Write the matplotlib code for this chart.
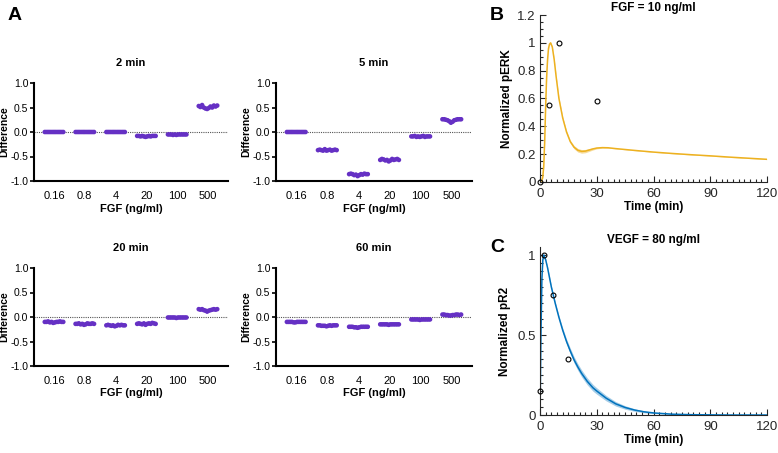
import numpy as np
import matplotlib
matplotlib.use("Agg")
import matplotlib.pyplot as plt
from matplotlib.ticker import AutoMinorLocator, FixedLocator

plt.rcParams['font.family'] = ['Liberation Sans', 'DejaVu Sans']

# ---- panel A data: differences per FGF dose (swarm points) ----
doses = ['0.16', '0.8', '4', '20', '100', '500']
swarm_titles = ['2 min', '5 min', '20 min', '60 min']

diff_2min = [
    [0.0, 0.0, 0.0, 0.0, 0.0, 0.0, 0.0, 0.0, 0.0, 0.0, 0.0, 0.0],
    [0.0, 0.0, 0.0, 0.0, 0.0, 0.0, 0.0, 0.0, 0.0, 0.0, 0.0, 0.0],
    [0.0, 0.0, 0.0, 0.0, 0.0, 0.0, 0.0, 0.0, 0.0, 0.0, 0.0, 0.0],
    [-0.08, -0.08, -0.09, -0.08, -0.09, -0.1, -0.09, -0.08, -0.09, -0.08, -0.08, -0.08],
    [-0.05, -0.05, -0.05, -0.06, -0.05, -0.06, -0.05, -0.05, -0.05, -0.05, -0.05, -0.05],
    [0.53, 0.51, 0.55, 0.5, 0.48, 0.47, 0.49, 0.52, 0.5, 0.54, 0.52, 0.54],
]
diff_5min = [
    [0.0, 0.0, 0.0, 0.0, 0.0, 0.0, 0.0, 0.0, 0.0, 0.0, 0.0, 0.0],
    [-0.37, -0.36, -0.37, -0.38, -0.35, -0.38, -0.37, -0.36, -0.38, -0.37, -0.36, -0.37],
    [-0.86, -0.85, -0.86, -0.88, -0.87, -0.9, -0.88, -0.86, -0.87, -0.85, -0.86, -0.86],
    [-0.57, -0.55, -0.56, -0.58, -0.57, -0.6, -0.58, -0.55, -0.57, -0.56, -0.55, -0.57],
    [-0.09, -0.09, -0.08, -0.1, -0.09, -0.1, -0.09, -0.08, -0.1, -0.09, -0.09, -0.09],
    [0.26, 0.26, 0.25, 0.24, 0.22, 0.19, 0.21, 0.24, 0.25, 0.26, 0.26, 0.26],
]
diff_20min = [
    [-0.1, -0.1, -0.09, -0.11, -0.1, -0.12, -0.11, -0.1, -0.1, -0.09, -0.1, -0.1],
    [-0.14, -0.14, -0.13, -0.15, -0.14, -0.16, -0.15, -0.13, -0.14, -0.14, -0.13, -0.14],
    [-0.17, -0.16, -0.17, -0.18, -0.17, -0.19, -0.18, -0.16, -0.17, -0.16, -0.17, -0.17],
    [-0.14, -0.13, -0.14, -0.15, -0.13, -0.16, -0.14, -0.13, -0.14, -0.12, -0.13, -0.14],
    [-0.01, -0.01, -0.01, -0.01, -0.01, -0.02, -0.01, -0.01, -0.01, -0.01, -0.01, -0.01],
    [0.16, 0.15, 0.16, 0.14, 0.13, 0.11, 0.13, 0.14, 0.15, 0.16, 0.15, 0.16],
]
diff_60min = [
    [-0.1, -0.1, -0.1, -0.1, -0.11, -0.11, -0.1, -0.1, -0.1, -0.1, -0.1, -0.1],
    [-0.17, -0.17, -0.18, -0.18, -0.18, -0.19, -0.18, -0.17, -0.18, -0.17, -0.17, -0.17],
    [-0.2, -0.2, -0.2, -0.21, -0.21, -0.22, -0.21, -0.2, -0.2, -0.2, -0.2, -0.2],
    [-0.15, -0.15, -0.15, -0.15, -0.15, -0.16, -0.15, -0.15, -0.15, -0.15, -0.15, -0.15],
    [-0.05, -0.05, -0.05, -0.05, -0.05, -0.06, -0.05, -0.05, -0.05, -0.05, -0.05, -0.05],
    [0.05, 0.05, 0.04, 0.04, 0.03, 0.03, 0.04, 0.04, 0.05, 0.05, 0.04, 0.05],
]
swarm_data = [diff_2min, diff_5min, diff_20min, diff_60min]

# ---- panel B: pERK time course, FGF = 10 ng/ml ----
erk_t = [0, 1, 1.5, 2, 2.5, 3, 3.5, 4, 4.5, 5, 5.6, 6.5, 7.5, 8.5, 10, 12, 14, 16, 18, 20, 22, 24,
         26, 28, 30, 33, 36, 40, 50, 60, 70, 80, 90, 100, 110, 120]
erk_fit = [0, 0.01, 0.04, 0.12, 0.3, 0.55, 0.75, 0.88, 0.96, 0.99, 1.0, 0.97, 0.88, 0.76, 0.6, 0.46,
           0.36, 0.29, 0.25, 0.228, 0.22, 0.222, 0.23, 0.238, 0.244, 0.247, 0.246, 0.24, 0.227,
           0.215, 0.205, 0.196, 0.188, 0.179, 0.171, 0.163]
erk_band = [0, 0.005, 0.01, 0.015, 0.015, 0.015, 0.012, 0.01, 0.008, 0.006, 0.005, 0.006, 0.008, 0.01,
            0.01, 0.01, 0.01, 0.01, 0.012, 0.013, 0.013, 0.012, 0.01, 0.008, 0.006, 0.004, 0.003,
            0.002, 0.002, 0.002, 0.002, 0.002, 0.002, 0.002, 0.002, 0.002]
erk_obs_t = [0, 5, 10, 30]
erk_obs = [0, 0.55, 1.0, 0.58]

# ---- panel C: pR2 time course, VEGF = 80 ng/ml ----
r2_t = [0, 0.5, 1, 1.5, 2, 3, 4, 5, 6, 7, 8, 10, 12, 14, 16, 18, 20, 22, 25, 28, 30, 35, 40, 45,
        50, 55, 60, 70, 80, 90, 100, 120]
r2_fit = [0, 0.5, 0.85, 0.97, 1.0, 0.97, 0.92, 0.86, 0.8, 0.75, 0.7, 0.61, 0.53, 0.46, 0.4, 0.345,
          0.3, 0.26, 0.21, 0.17, 0.15, 0.105, 0.07, 0.047, 0.031, 0.02, 0.013, 0.005, 0.002, 0.001,
          0.0, 0.0]
r2_band = [0, 0.005, 0.005, 0.005, 0.005, 0.005, 0.006, 0.007, 0.008, 0.009, 0.01, 0.012, 0.014,
           0.016, 0.018, 0.02, 0.021, 0.022, 0.022, 0.021, 0.02, 0.017, 0.014, 0.011, 0.008, 0.006,
           0.004, 0.002, 0.001, 0.0, 0.0, 0.0]
r2_obs_t = [0, 2, 7, 15]
r2_obs = [0.15, 1.0, 0.75, 0.35]

W, H = 778, 453
fig = plt.figure(figsize=(W / 100, H / 100), dpi=100)


def px_axes(l, t, r, b):
    return fig.add_axes([l / W, 1 - b / H, (r - l) / W, (b - t) / H])


purple = '#6530c4'
boxes = [(34, 83, 228, 181), (276, 83, 472, 181), (34, 268, 228, 366), (276, 268, 472, 366)]

for box, title, groups in zip(boxes, swarm_titles, swarm_data):
    ax = px_axes(*box)
    for i, vals in enumerate(groups):
        offs = np.linspace(-0.3, 0.3, len(vals))
        ax.scatter(i + offs, vals, s=11, color=purple, edgecolors='none', zorder=3)
    ax.axhline(0, color='#555555', lw=0.8, ls=(0, (1, 1)), zorder=1)
    ax.set_xlim(-0.65, 5.65)
    ax.set_ylim(-1.0, 1.0)
    ax.set_yticks([-1.0, -0.5, 0.0, 0.5, 1.0])
    ax.set_yticklabels(['-1.0', '-0.5', '0.0', '0.5', '1.0'])
    ax.set_xticks(range(len(doses)))
    ax.set_xticklabels(doses)
    for s in ['top', 'right']:
        ax.spines[s].set_visible(False)
    for s in ['left', 'bottom']:
        ax.spines[s].set_linewidth(1.5)
    ax.tick_params(axis='y', length=3, width=1.2, labelsize=7.5, pad=1)
    ax.tick_params(axis='x', length=0, labelsize=8, pad=7)
    ax.set_title(title, fontsize=8, fontweight='bold', pad=12)
    ax.set_ylabel('Difference', fontsize=7.5, fontweight='bold', labelpad=0.5)
    ax.set_xlabel('FGF (ng/ml)', fontsize=8, fontweight='bold', labelpad=2)

fig.text(8 / W, 1 - 16 / H, 'A', fontsize=14, fontweight='bold', va='center')


def time_axes(ax):
    for s in ['top', 'right']:
        ax.spines[s].set_visible(False)
    for s in ['left', 'bottom']:
        ax.spines[s].set_color('#262626')
        ax.spines[s].set_linewidth(0.8)
    ax.set_xlim(0, 120)
    ax.set_xticks([0, 30, 60, 90, 120])
    ax.xaxis.set_minor_locator(AutoMinorLocator(10))
    ax.tick_params(which='both', direction='in', color='#262626', labelcolor='#262626',
                   labelsize=9.5, width=0.8)
    ax.tick_params(which='major', length=4)
    ax.tick_params(which='minor', length=2.5)
    ax.tick_params(axis='x', pad=4)
    ax.tick_params(axis='y', pad=3)
    ax.set_xlabel('Time (min)', fontsize=8.5, fontweight='bold', labelpad=1)


# panel B
axb = px_axes(540, 15, 767, 182)
erk_fit_a = np.array(erk_fit)
erk_band_a = np.array(erk_band)
axb.fill_between(erk_t, erk_fit_a - erk_band_a, erk_fit_a + erk_band_a, color='#edb120', alpha=0.45, lw=0)
axb.plot(erk_t, erk_fit, color='#edb120', lw=1.1)
axb.plot(erk_obs_t, erk_obs, 'o', mfc='none', mec='black', ms=3.5, mew=0.8, clip_on=False, zorder=4)
axb.set_ylim(0, 1.2)
axb.set_yticks([0, 0.2, 0.4, 0.6, 0.8, 1.0, 1.2])
axb.set_yticklabels(['0', '0.2', '0.4', '0.6', '0.8', '1', '1.2'])
axb.yaxis.set_minor_locator(AutoMinorLocator(4))
time_axes(axb)
axb.set_title('FGF = 10 ng/ml', fontsize=8.5, fontweight='bold', pad=3)
axb.set_ylabel('Normalized pERK', fontsize=8.5, fontweight='bold', labelpad=3)
fig.text(490 / W, 1 - 15 / H, 'B', fontsize=14, fontweight='bold', va='center')

# panel C
axc = px_axes(540, 247, 767, 415)
r2_fit_a = np.array(r2_fit)
r2_band_a = np.array(r2_band)
axc.fill_between(r2_t, r2_fit_a - r2_band_a, r2_fit_a + r2_band_a, color='#0072bd', alpha=0.35, lw=0)
axc.plot(r2_t, r2_fit, color='#0072bd', lw=1.1)
axc.plot(r2_obs_t, r2_obs, 'o', mfc='none', mec='black', ms=3.5, mew=0.8, clip_on=False, zorder=4)
axc.set_ylim(0, 1.05)
axc.set_yticks([0, 0.5, 1.0])
axc.set_yticklabels(['0', '0.5', '1'])
axc.yaxis.set_minor_locator(FixedLocator(np.arange(0, 1.05, 0.05)))
time_axes(axc)
axc.set_title('VEGF = 80 ng/ml', fontsize=8.5, fontweight='bold', pad=3)
axc.set_ylabel('Normalized pR2', fontsize=8.5, fontweight='bold', labelpad=5)
fig.text(490 / W, 1 - 248 / H, 'C', fontsize=14, fontweight='bold', va='center')

fig.savefig('out.png', dpi=100)
